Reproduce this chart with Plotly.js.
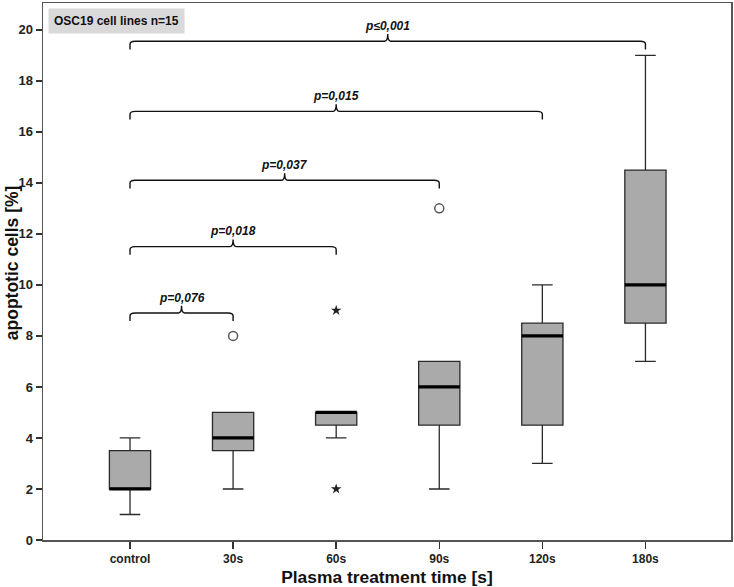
<!DOCTYPE html>
<html>
<head>
<meta charset="utf-8">
<script src="https://cdn.plot.ly/plotly-3.0.1.min.js"></script>
<style>html,body{margin:0;padding:0;background:#fff;}#chart{width:734px;height:587px;}</style>
</head>
<body>
<div id="chart"></div>
<script>
// ---- data ----
var categories = ['control', '30s', '60s', '90s', '120s', '180s'];
var lowerWhisker = [1, 2, 4, 2, 3, 7];
var q1Values = [2, 3.5, 4.5, 4.5, 4.5, 8.5];
var medianValues = [2, 4, 5, 6, 8, 10];
var q3Values = [3.5, 5, 5, 7, 8.5, 14.5];
var upperWhisker = [4, 5, 5, 7, 10, 19];

// outliers (circle) and extremes (star)
var outlierCat = [1, 3];
var outlierVal = [8, 13];
var extremeCat = [2, 2];
var extremeVal = [9, 2];

// significance brackets
var bracketFrom = [0, 0, 0, 0, 0];
var bracketTo = [1, 2, 3, 4, 5];
var bracketY = [8.9, 11.5, 14.1, 16.8, 19.55];
var pLabels = ['p=0,076', 'p=0,018', 'p=0,037', 'p=0,015', 'p\u22640,001'];

var panelLabel = 'OSC19 cell lines n=15';
var yTitle = 'apoptotic cells [%]';
var xTitle = 'Plasma treatment time [s]';
var yTicks = [0, 2, 4, 6, 8, 10, 12, 14, 16, 18, 20];

// ---- build ----
var pos = categories.map(function (c, i) { return i; });
var boxHalf = 0.2;

var traces = [
  {
    type: 'box',
    x: pos,
    q1: q1Values,
    median: medianValues,
    q3: q3Values,
    lowerfence: lowerWhisker,
    upperfence: upperWhisker,
    width: boxHalf * 2,
    whiskerwidth: 0.5,
    fillcolor: '#aaaaaa',
    line: { color: '#2a2a2a', width: 1.3 },
    boxpoints: false,
    hoverinfo: 'skip',
    showlegend: false
  },
  {
    type: 'scatter', mode: 'markers',
    x: outlierCat, y: outlierVal,
    marker: { symbol: 'circle-open', size: 9, color: '#555', line: { width: 1.5, color: '#555' } },
    hoverinfo: 'skip', showlegend: false
  },
  {
    type: 'scatter', mode: 'markers',
    x: extremeCat, y: extremeVal,
    marker: { symbol: 'star', size: 8, color: '#222' },
    hoverinfo: 'skip', showlegend: false
  }
];

var shapes = [];
// thick median lines
medianValues.forEach(function (m, i) {
  shapes.push({
    type: 'line', xref: 'x', yref: 'y',
    x0: pos[i] - boxHalf, x1: pos[i] + boxHalf, y0: m, y1: m,
    line: { color: '#000', width: 3.2 }
  });
});

var annotations = [];
var drop = 0.32, spike = 0.28, r = 0.05, ry = 0.12;
bracketY.forEach(function (y, k) {
  var a = pos[bracketFrom[k]], b = pos[bracketTo[k]];
  var mid = (a + b) / 2;
  var path = 'M ' + a + ',' + (y - drop) +
    ' L ' + a + ',' + (y - ry) +
    ' Q ' + a + ',' + y + ' ' + (a + r) + ',' + y +
    ' L ' + (mid - 0.03) + ',' + y +
    ' Q ' + mid + ',' + y + ' ' + mid + ',' + (y + spike) +
    ' Q ' + mid + ',' + y + ' ' + (mid + 0.03) + ',' + y +
    ' L ' + (b - r) + ',' + y +
    ' Q ' + b + ',' + y + ' ' + b + ',' + (y - ry) +
    ' L ' + b + ',' + (y - drop);
  shapes.push({
    type: 'path', xref: 'x', yref: 'y', path: path,
    line: { color: '#111', width: 1.4 }
  });
  annotations.push({
    xref: 'x', yref: 'y', x: mid, y: y + spike,
    text: '<b><i>' + pLabels[k] + '</i></b>',
    showarrow: false, yanchor: 'bottom', xanchor: 'center', yshift: -1,
    font: { family: 'Liberation Sans, Arial, sans-serif', size: 12, color: '#111' }
  });
});

annotations.push({
  xref: 'paper', yref: 'paper', x: 0.007, y: 0.991,
  xanchor: 'left', yanchor: 'top',
  text: '<b>' + panelLabel + '</b>',
  showarrow: false, bgcolor: '#d9d9d9', borderpad: 5,
  font: { family: 'Liberation Sans, Arial, sans-serif', size: 12, color: '#111' }
});

// y-axis title (placed as rotated text to match reference position)
annotations.push({
  xref: 'paper', yref: 'y', x: 0, y: 10.85, xshift: -31,
  xanchor: 'center', yanchor: 'middle', textangle: -90,
  text: '<b>' + yTitle + '</b>', showarrow: false,
  font: { family: 'Liberation Sans, Arial, sans-serif', size: 17.5, color: '#111' }
});

var layout = {
  width: 734, height: 587,
  margin: { l: 43, r: 3, t: 3, b: 47 },
  paper_bgcolor: '#fff', plot_bgcolor: '#fff',
  showlegend: false,
  xaxis: {
    range: [-0.844, 5.83],
    tickvals: pos, ticktext: categories,
    ticks: 'outside', ticklen: 7, tickwidth: 1.5, tickcolor: '#333',
    showline: true, linecolor: '#555', linewidth: 1.5, mirror: true,
    showgrid: false, zeroline: false,
    tickfont: { family: 'Liberation Sans, Arial, sans-serif', size: 12, color: '#222', weight: 'bold' },
    title: { text: xTitle, standoff: 6,
      font: { family: 'Liberation Sans, Arial, sans-serif', size: 17.4, color: '#111', weight: 'bold' } }
  },
  yaxis: {
    range: [0, 21.05],
    tickvals: yTicks,
    ticks: 'outside', ticklen: 6, tickwidth: 1.5, tickcolor: '#333',
    showline: true, linecolor: '#555', linewidth: 1.5, mirror: true,
    showgrid: false, zeroline: false,
    tickfont: { family: 'Liberation Sans, Arial, sans-serif', size: 13, color: '#222', weight: 'bold' }
  },
  shapes: shapes,
  annotations: annotations
};

Plotly.newPlot('chart', traces, layout, { displayModeBar: false, staticPlot: true });
</script>
</body>
</html>
